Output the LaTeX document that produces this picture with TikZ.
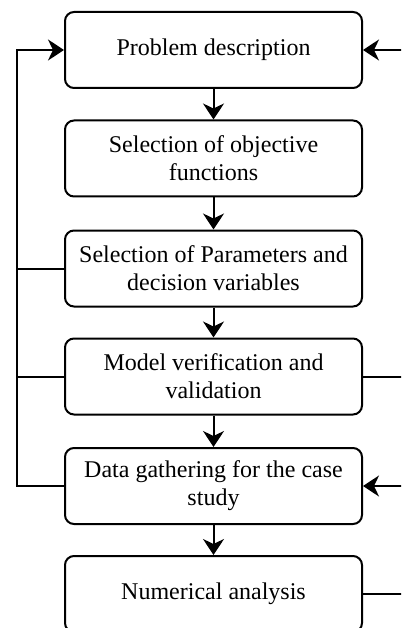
\documentclass[tikz,border=0pt]{standalone}
\usepackage{fontspec}
\setmainfont{Liberation Serif}
\usetikzlibrary{arrows.meta}
\begin{document}
\begin{tikzpicture}[x=1pt,y=-1pt,
  stepbox/.style={draw,line width=2pt,rounded corners=9pt,minimum width=297pt,minimum height=76pt,
    align=center,inner sep=0pt,font=\fontsize{24}{28}\selectfont},
  conn/.style={line width=2pt},
  arr/.style={line width=2pt,-{Stealth[length=16pt,width=21pt,inset=5pt]}}]
\useasboundingbox (0,0) rectangle (401,628);
\clip (0,0) rectangle (401,628);
\node[stepbox] (b1) at (213.5,50) {Problem description};
\node[stepbox] (b2) at (213.5,158.5) {Selection of objective\\functions};
\node[stepbox] (b3) at (213.5,268.5) {Selection of Parameters and\\decision variables};
\node[stepbox] (b4) at (213.5,376.5) {Model verification and\\validation};
\node[stepbox] (b5) at (213.5,486) {Data gathering for the case\\study};
\node[stepbox] (b6) at (213.5,594) {Numerical analysis};
\coordinate (L) at (17,486);
\coordinate (R) at (402,50);
\draw[arr] (b1) -- (b2);
\draw[arr] (b2) -- (b3);
\draw[arr] (b3) -- (b4);
\draw[arr] (b4) -- (b5);
\draw[arr] (b5) -- (b6);
\draw[arr] (b5.west) -- (L) |- (b1.west);
\draw[conn] (b3.west) -- (b3.west -| L);
\draw[conn] (b4.west) -- (b4.west -| L);
\draw[arr] (R) -- (b1.east);
\draw[conn] (b4.east) -- (b4.east -| R);
\draw[arr] (b5.east -| R) -- (b5.east);
\draw[conn] (b6.east) -- (b6.east -| R);
\end{tikzpicture}
\end{document}
